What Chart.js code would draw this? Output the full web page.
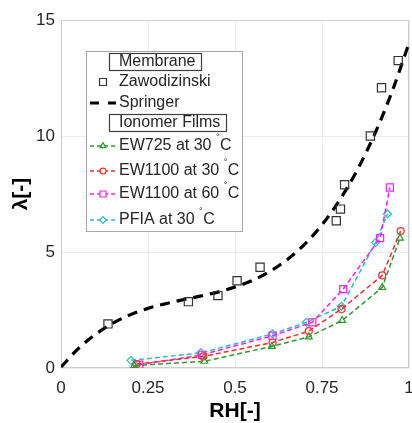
<!DOCTYPE html>
<html>
<head>
<meta charset="utf-8">
<script src="https://cdn.jsdelivr.net/npm/chart.js@4/dist/chart.umd.min.js"></script>
<style>
  html, body { margin: 0; padding: 0; background: #fff; }
  #wrap { width: 412px; height: 423px; position: relative; }
</style>
</head>
<body>
<div id="wrap"><canvas id="sorptionCanvas"></canvas></div>
<script>
// ---------------- Data ----------------------------------------------------
// Membrane: Zawodzinski measurements
const zawRH     = [ 0.135, 0.366, 0.451, 0.506, 0.572, 0.791, 0.803, 0.815, 0.889, 0.921, 0.969 ] ;
const zawLambda = [ 1.90,  2.86,  3.12,  3.76,  4.34,  6.35,  6.85,  7.90,  10.0,  12.08, 13.25 ] ;

// Membrane: Springer fit
const springerRH     = [ 0, 0.05, 0.10, 0.15, 0.20, 0.25, 0.30, 0.35, 0.40, 0.45, 0.50,
                         0.55, 0.60, 0.65, 0.70, 0.75, 0.80, 0.85, 0.90, 0.95, 1.00 ] ;
const springerLambda = [ 0.04, 0.84, 1.46, 1.94, 2.30, 2.57, 2.77, 2.94, 3.10, 3.27, 3.49,
                         3.77, 4.16, 4.67, 5.33, 6.17, 7.22, 8.50, 10.04, 11.86, 14.0 ] ;

// Ionomer films
const ew725RH       = [ 0.210, 0.412, 0.606, 0.712, 0.808, 0.923, 0.974 ] ;
const ew725Lambda   = [ 0.10,  0.29,  0.93,  1.34,  2.05,  3.47,  5.60 ] ;
const ew1100RH30    = [ 0.217, 0.409, 0.608, 0.712, 0.806, 0.923, 0.976 ] ;
const ew1100Lambda30= [ 0.17,  0.50,  1.10,  1.59,  2.54,  3.99,  5.90 ] ;
const ew1100RH60    = [ 0.225, 0.405, 0.608, 0.722, 0.811, 0.917, 0.945 ] ;
const ew1100Lambda60= [ 0.14,  0.57,  1.39,  1.97,  3.40,  5.60,  7.78 ] ;
const pfiaRH        = [ 0.201, 0.402, 0.608, 0.705, 0.806, 0.904, 0.938 ] ;
const pfiaLambda    = [ 0.33,  0.65,  1.47,  1.97,  2.66,  5.41,  6.64 ] ;

const xTicks      = [ 0, 0.25, 0.5, 0.75, 1 ] ;
const xTickLabels = [ '0', '0.25', '0.5', '0.75', '1' ] ;
const yTicks      = [ 0, 5, 10, 15 ] ;
const yTickLabels = [ '0', '5', '10', '15' ] ;

// ---------------- Styles --------------------------------------------------
const FONT_FAMILY = "'Liberation Sans', Arial, sans-serif" ;
const TEXT_COLOR  = '#262626' ;
const GREEN   = '#2b9a2b' ;
const RED     = '#ff2b2b' ;
const MAGENTA = '#ff1dff' ;
const CYAN    = '#20c2c2' ;

function toPoints( xs, ys ) {
    return xs.map( function( x, i ) { return { x: x, y: ys[i] } ; } ) ;
}

function filmDataset( label, xs, ys, color, style, radius ) {
    return {
        label            : label,
        data             : toPoints( xs, ys ),
        showLine         : true,
        borderColor      : color,
        backgroundColor  : 'rgba(0,0,0,0)',
        borderWidth      : 1.5,
        borderDash       : [ 5, 3 ],
        tension          : 0,
        pointStyle       : style,
        pointRadius      : radius,
        pointBorderWidth : 1.2,
        pointBorderColor : color,
        pointBackgroundColor : 'rgba(0,0,0,0)',
    } ;
}

const datasets = [
    {
        label            : 'Zawodizinski',
        data             : toPoints( zawRH, zawLambda ),
        showLine         : false,
        pointStyle       : 'rect',
        pointRadius      : 5.8,
        pointBorderWidth : 1.2,
        pointBorderColor : '#333',
        pointBackgroundColor : 'rgba(0,0,0,0)',
    },
    {
        label            : 'Springer',
        data             : toPoints( springerRH, springerLambda ),
        showLine         : true,
        borderColor      : '#000',
        borderWidth      : 3.2,
        borderDash       : [ 10, 7 ],
        cubicInterpolationMode : 'monotone',
        pointRadius      : 0,
    },
    filmDataset( 'EW725 at 30 °C',  ew725RH,    ew725Lambda,    GREEN,   'triangle', 4 ),
    filmDataset( 'EW1100 at 30 °C', ew1100RH30, ew1100Lambda30, RED,     'circle',   3.5 ),
    filmDataset( 'EW1100 at 60 °C', ew1100RH60, ew1100Lambda60, MAGENTA, 'rect',     5 ),
    filmDataset( 'PFIA at 30 °C',   pfiaRH,     pfiaLambda,     CYAN,    'rectRot',  4 ),
] ;

// ---------------- Plot frame and legend -----------------------------------
const framePlugin = {
    id: 'frame',
    beforeDatasetsDraw: function( chart ) {
        const a = chart.chartArea ;
        const ctx = chart.ctx ;
        ctx.save() ;
        ctx.strokeStyle = '#cdcdcd' ;
        ctx.lineWidth = 1 ;
        ctx.strokeRect( Math.round( a.left ) + 0.5, Math.round( a.top ) + 0.5,
                        Math.round( a.right - a.left ) - 1, Math.round( a.bottom - a.top ) - 1 ) ;
        ctx.restore() ;
    }
} ;

function drawDegreeLabel( ctx, text, x, y ) {
    // text ends with "°C": draw the degree sign raised and small
    const parts = text.split( '°' ) ;
    ctx.font = '16px ' + FONT_FAMILY ;
    ctx.fillText( parts[0], x, y ) ;
    let cx = x + ctx.measureText( parts[0] ).width ;
    ctx.font = '9px ' + FONT_FAMILY ;
    ctx.fillText( '°', cx, y - 8 ) ;
    cx += ctx.measureText( '°' ).width + 0.5 ;
    ctx.font = '16px ' + FONT_FAMILY ;
    ctx.fillText( parts[1], cx, y ) ;
}

function drawHeader( ctx, text, x, y, w ) {
    ctx.strokeStyle = '#404040' ;
    ctx.lineWidth = 1.2 ;
    ctx.strokeRect( x + 0.5, y - 8.5, w, 17 ) ;
    ctx.fillStyle = TEXT_COLOR ;
    ctx.font = '16px ' + FONT_FAMILY ;
    ctx.fillText( text, x + 10, y ) ;
}

function drawSample( ctx, ds, x, y ) {
    if( ds.showLine ) {
        ctx.save() ;
        ctx.strokeStyle = ds.borderColor ;
        ctx.lineWidth = ds.borderWidth ;
        ctx.setLineDash( ds.label === 'Springer' ? [ 9, 9 ] : [ 4, 3 ] ) ;
        ctx.beginPath() ;
        ctx.moveTo( x - 13, y ) ;
        ctx.lineTo( x + 13, y ) ;
        ctx.stroke() ;
        ctx.restore() ;
    }
    if( ds.pointRadius > 0 ) {
        ctx.save() ;
        ctx.setLineDash( [] ) ;
        ctx.strokeStyle = ds.pointBorderColor ;
        ctx.fillStyle = '#fff' ;
        Chart.helpers.drawPoint( ctx, {
            pointStyle  : ds.pointStyle,
            radius      : ds.pointRadius * 0.85,
            rotation    : 0,
            borderWidth : ds.pointBorderWidth
        }, x, y ) ;
        ctx.restore() ;
    }
}

const legendPlugin = {
    id: 'sectionLegend',
    afterDraw: function( chart ) {
        const ctx = chart.ctx ;
        const a = chart.chartArea ;
        const left = Math.round( a.left ) + 25 ;
        const top  = Math.round( a.top ) + 31 ;
        const ds = chart.data.datasets ;

        ctx.save() ;
        ctx.fillStyle = '#fff' ;
        ctx.fillRect( left, top, 156, 180 ) ;
        ctx.strokeStyle = '#a6a6a6' ;
        ctx.lineWidth = 1 ;
        ctx.strokeRect( left + 0.5, top + 0.5, 156, 180 ) ;

        ctx.textBaseline = 'middle' ;
        ctx.textAlign = 'left' ;
        const markX = left + 17 ;
        const textX = left + 33 ;

        drawHeader( ctx, 'Membrane', left + 23, top + 11, 92 ) ;
        drawSample( ctx, ds[0], markX, top + 31 ) ;
        ctx.fillStyle = TEXT_COLOR ;
        ctx.font = '16px ' + FONT_FAMILY ;
        ctx.fillText( ds[0].label, textX, top + 31 ) ;
        drawSample( ctx, ds[1], markX, top + 52 ) ;
        ctx.fillStyle = TEXT_COLOR ;
        ctx.fillText( ds[1].label, textX, top + 52 ) ;

        drawHeader( ctx, 'Ionomer Films', left + 23, top + 72, 117 ) ;
        const rowY = [ 95, 120, 143, 169 ] ;
        for( var i = 0; i < 4; i++ ) {
            drawSample( ctx, ds[i + 2], markX, top + rowY[i] ) ;
            ctx.fillStyle = TEXT_COLOR ;
            drawDegreeLabel( ctx, ds[i + 2].label, textX, top + rowY[i] ) ;
        }
        ctx.restore() ;
    }
} ;

// ---------------- Chart ---------------------------------------------------
const tickFont = { family: FONT_FAMILY, size: 17 } ;
const titleFont = { family: FONT_FAMILY, size: 21, weight: 'bold' } ;

new Chart( document.getElementById( 'sorptionCanvas' ), {
    type: 'scatter',
    data: { datasets: datasets },
    options: {
        responsive: true,
        maintainAspectRatio: false,
        animation: false,
        layout: {
            autoPadding: false,
            padding: { top: 20, right: 3, left: 0, bottom: 0 }
        },
        plugins: {
            legend: { display: false },
            tooltip: { enabled: false },
        },
        scales: {
            x: {
                type: 'linear',
                min: 0,
                max: 1,
                afterBuildTicks: function( scale ) {
                    scale.ticks = xTicks.map( function( v ) { return { value: v } ; } ) ;
                },
                afterFit: function( scale ) {
                    scale.height = 55 ;
                    scale.paddingLeft = 0 ;
                    scale.paddingRight = 0 ;
                },
                ticks: {
                    font: tickFont, color: TEXT_COLOR, padding: 10, maxRotation: 0,
                    callback: function( value, index ) { return xTickLabels[index] ; }
                },
                grid: { color: '#ebebeb', drawTicks: false },
                border: { display: false },
                title: { display: true, text: 'RH[-]', font: titleFont, color: '#000',
                         padding: { top: 0, bottom: -1 } },
            },
            y: {
                type: 'linear',
                min: 0,
                max: 15,
                afterBuildTicks: function( scale ) {
                    scale.ticks = yTicks.map( function( v ) { return { value: v } ; } ) ;
                },
                afterFit: function( scale ) {
                    scale.width = 61 ;
                },
                ticks: {
                    font: tickFont, color: TEXT_COLOR, padding: 6,
                    callback: function( value, index ) { return yTickLabels[index] ; }
                },
                grid: { color: '#ebebeb', drawTicks: false },
                border: { display: false },
                title: { display: true, text: 'λ[-]', font: titleFont, color: '#000',
                         padding: { top: 9, bottom: 0 } },
            }
        }
    },
    plugins: [ framePlugin, legendPlugin ]
} ) ;
</script>
</body>
</html>
